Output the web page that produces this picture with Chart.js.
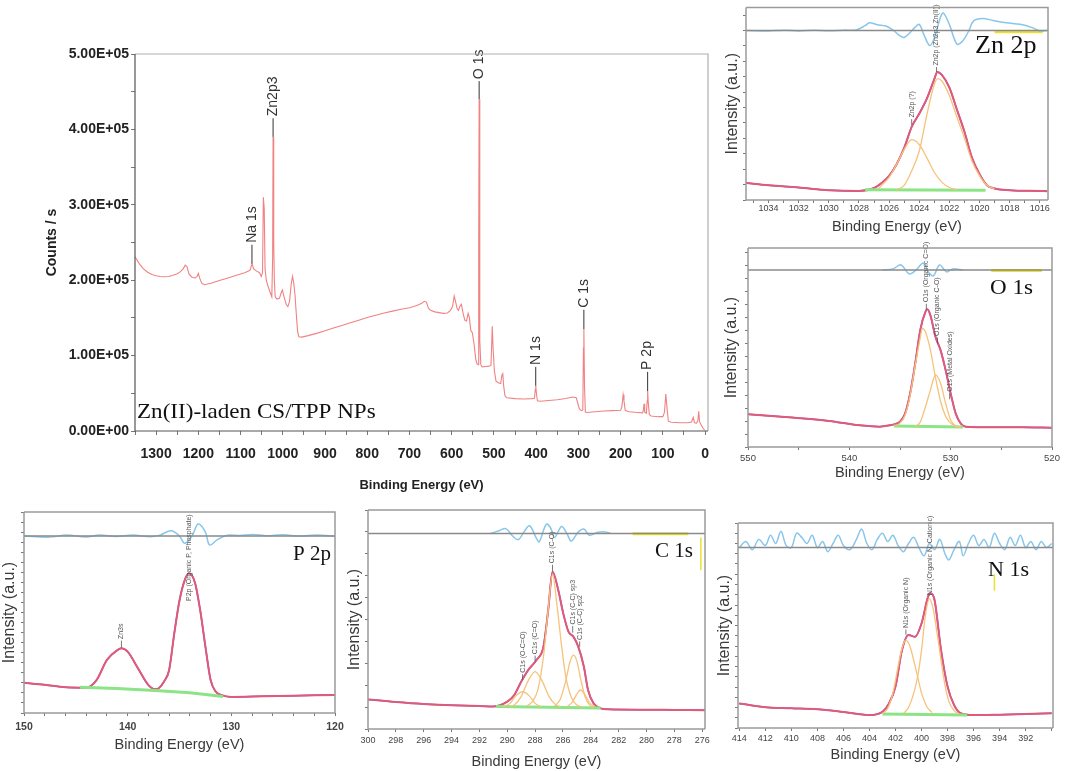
<!DOCTYPE html>
<html>
<head>
<meta charset="utf-8">
<script src="https://cdn.jsdelivr.net/npm/chart.js@4.4.1/dist/chart.umd.min.js"></script>
<style>
  body { margin: 0; background: #fff; width: 1065px; height: 771px; position: relative; overflow: hidden; }
  canvas { position: absolute; }
</style>
</head>
<body>
<canvas id="survey" width="720" height="500" style="left:0;top:0"></canvas>
<canvas id="zn" width="345" height="240" style="left:720px;top:0"></canvas>
<canvas id="o" width="345" height="250" style="left:720px;top:240px"></canvas>
<canvas id="p" width="350" height="271" style="left:0;top:500px"></canvas>
<canvas id="c" width="380" height="271" style="left:340px;top:500px"></canvas>
<canvas id="n" width="365" height="271" style="left:700px;top:500px"></canvas>
<script>
// ---- survey spectrum ----
const surveyEnergy = [1350,1340,1330,1320,1310,1300,1290,1280,1270,1260,1250,1243,1236,1231,1227,1222,1215,1208,1203,1200,1197,1192,1185,1170,1150,1130,1110,1090,1080,1077,1073,1069,1062,1055,1051,1048,1046,1044,1042,1039,1035,1030,1026,1024,1023,1022,1021,1020,1018,1014,1008,1004,1001,997,992,988,984,980,977,974,971,968,965,962,955,940,920,900,880,860,840,820,800,780,760,740,720,700,690,680,672,665,660,655,650,640,630,620,610,603,598,594,591,587,584,580,577,573,569,565,561,558,555,551,547,543,540,537,536,535,534,533,531,528,520,512,507,505,504,502,499,495,490,484,481,479,477,474,470,450,430,410,404,402,401,399,397,390,370,350,330,314,305,298,293,289.5,288,287,285.5,283.5,280,260,240,220,200,197,194,192,189,180,160,148,146,144.5,143,139,137,136,134.5,132,128,122,110,100,96,93,90,87,80,60,40,32,28,25,20,17,15,13,5,1];
const surveyCounts = [231000,222000,215000,210500,207500,206000,205000,204500,205000,206500,208500,211000,215000,220000,218000,208000,204000,203000,205000,209000,203000,196000,194000,196000,199500,203000,206500,210000,212500,214000,222000,215000,212000,210000,205000,210000,310000,295000,215000,200000,192000,184000,178000,230000,390000,330000,250000,200000,178000,175000,176000,183000,187000,178000,168000,165000,172000,195000,205000,196000,180000,155000,132000,125000,124500,126500,129500,133000,136500,140000,143500,147000,150500,153500,156500,159000,161500,163500,165000,167000,169000,172000,171000,163000,160000,158000,157000,156000,156500,160000,165000,179000,172000,162000,160000,166000,168000,156000,147000,146000,156000,150000,134000,130000,115000,95000,89000,88000,250000,440000,300000,120000,88000,85000,85500,86000,87000,120000,139000,110000,80000,66000,64000,63000,74000,76000,60000,47000,44000,43000,42500,43000,43500,55000,60000,48000,40000,39500,40500,41500,43000,45000,44000,30000,27000,28000,110000,135000,60000,25000,24500,25500,26500,27000,27500,32000,48000,40000,27000,25500,24500,24000,28000,36000,25000,23500,40000,53000,38000,22000,20000,19500,19000,19000,25000,49000,30000,13000,11500,11000,11000,12000,18000,11000,10500,14000,26000,12000,4000,1000];
const surveyPeaks = ['Na 1s', 'Zn2p3', 'O 1s', 'N 1s', 'C 1s', 'P 2p'];
const surveyPeakAt = [1073, 1023, 535, 401, 287, 136];
const surveyPeakFrom = [222000, 390000, 440000, 60000, 135000, 53000];
const surveyPeakTo = [247000, 414800, 464000, 85000, 160800, 78400];

// ---- Zn 2p ----
const znEnergy = [1035.5,1034,1032,1030,1028,1027,1026.5,1026,1025.5,1025,1024.5,1024,1023.5,1023,1022.8,1022.5,1022,1021.5,1021,1020.5,1020,1019.5,1019,1018,1016,1015.5];
const znEnvelope = [8.8,7.6,6.5,5.1,4.7,6.2,8.8,12.5,18.6,27,38,44.8,52.5,62.7,66.5,65,58.4,47,35.5,22,13.5,7.6,6,5.1,4.7,4.6];
const znPk1Energy = [1025.5,1025,1024.5,1024,1023.5,1023,1022.75,1022.5,1022,1021.5,1021,1020.5,1020,1019.5,1019];
const znPk1 = [5.4,7.6,15.2,25.3,44,60,63,61.8,54.3,43.1,32.2,20.3,12.7,7.6,5.9];
const znPk2Energy = [1026.7,1026.5,1026,1025.5,1025,1024.5,1024,1023.5,1023,1022.5,1022,1021.5];
const znPk2 = [5.9,7.6,11.8,18.6,26.2,31.3,28.8,22,14.4,9.3,6.5,5.4];
const znBgEnergy = [1027.6, 1019.6];
const znBg = [5.3, 5.0];
const znResEnergy = [1035.5,1034,1033,1032,1031,1030,1029,1028.2,1027.6,1027.3,1026.8,1026.2,1025.7,1025.3,1025,1024.6,1024.3,1024,1023.7,1023.3,1023,1022.6,1022.4,1022,1021.5,1021.1,1020.7,1020.4,1019.8,1019.1,1018.2,1017.3,1016.5,1016,1015.5];
const znRes = [88,87.7,88.2,87.8,88.1,87.9,88.2,88.3,90.5,92,91,90.3,88,85.3,84.4,87,89.5,91.2,86,80.2,84,94.6,97.1,91.2,81,82.7,88,92.9,94.2,93.2,92,91.2,89.5,87.8,88];
const znZero = 88;
const znPeaks = ['Zn2p (?)', 'Zn2p (Zn2p3 Zn(II))'];
const znPeakAt = [1024.5, 1022.85];
const znPeakFrom = [39, 66.5];
const znPeakTo = [42, 69];

// ---- O 1s ----
const oEnergy = [550,546,542,539,537,536,535.5,535,534.5,534,533.5,533,532.5,532.3,532,531.5,531,530.5,530,529.5,529,528.5,526,523,520];
const oEnvelope = [16.4,14.9,13.1,10.9,10.2,10.9,11.5,12.7,16.8,26.9,41.9,58.8,67.8,69.2,66.2,55.4,48.7,38.7,26.9,16.8,11.8,10.2,9.9,9.9,9.7];
const oPk1Energy = [535.5,535,534.5,534,533.5,533,532.8,532.5,532,531.5,531,530.5,530,529.5,529];
const oPk1 = [10.5,12,16,26,41,55,59.6,58,48.7,35,23,15.5,12,10.5,10];
const oPk2Energy = [533.5,533,532.5,532,531.5,531,530.5,530,529.5,529];
const oPk2 = [10.3,12.5,20,28.6,36.2,32,22,13.6,10.6,10];
const oBgEnergy = [535.6, 528.8];
const oBg = [10.6, 10.0];
const oResEnergy = [536.7,535.7,534.9,534.1,533.4,532.7,532.2,531.7,531.1,530.4,529.8,528.8];
const oRes = [89,89.5,91.5,87,89,92.5,88,86,91.5,88,89.5,89];
const oZero = 89;
const oPeaks = ['O1s (Organic C=O)', 'O1s (Organic C-O)', 'O1s (Metal Oxides)'];
const oPeakAt = [532.4, 531.3, 530.1];
const oPeakFrom = [69, 52, 24];
const oPeakTo = [72, 55, 27];

// ---- P 2p ----
const pEnergy = [150,148,146,144,143,142,141,140.6,140,139,138,137.3,137,136.5,136,135.5,135,134.5,134.1,133.5,133,132.5,132,131.5,131,130,127,124,120];
const pEnvelope = [15,14,12.8,12.6,16.4,26.4,31.3,32.2,30.5,22.2,13.9,11.8,12.3,15.6,21.4,39.7,56,66,69.5,64.7,51,33,16.4,10.6,9,8,8.3,8.6,9];
const pBgEnergy = [144.6,141,137,134,130.8];
const pBg = [12.8,12.2,11.1,10.1,8.2];
const pResEnergy = [150,147.5,145.9,144,142.7,141.1,139.5,137.8,136.9,135.8,135,134.5,133.8,133.2,132.5,132.1,131.4,130.4,129.2,127.9,126.6,125,123.4,121.8,120];
const pRes = [88,87.5,88.5,87.6,88.6,87.8,88.5,87.7,88.5,90.7,88,84.4,88,94,90,83.6,86,88.5,88.3,88.8,88.2,88.7,88,88.5,88];
const pZero = 88;
const pPeaks = ['Zn3s', 'P2p (Organic P, Phosphate)'];
const pPeakAt = [140.6, 134.1];
const pPeakFrom = [32.5, 55];
const pPeakTo = [36, 55];

// ---- C 1s ----
const cEnergy = [300,298,296,294,292,291,290,289.5,289,288.5,287.9,287.4,287.06,286.75,286.34,285.98,285.6,285.25,284.9,284.5,284.2,283.8,283.3,282.8,280,278,275.8];
const cEnvelope = [13.5,12.3,11.4,10.9,10.5,10.3,12.5,15.5,21.6,26.9,31.5,37.6,54.3,71.8,63.5,52.8,44.4,42.2,37.6,28.5,17.8,11.7,9.4,9,8.8,8.7,8.6];
const cPk1Energy = [290.3,289.8,289.4,288.9,288.4,288,287.6];
const cPk1 = [10.2,11.7,15,17,15,11.7,10.2];
const cPk2Energy = [289.8,289.5,289,288.5,288,287.5,287,286.5,286.2];
const cPk2 = [10.2,11,14.8,22,26.2,22,14.8,11,10.2];
const cPk3Energy = [288.6,288.2,287.8,287.4,287.1,286.75,286.4,286.1,285.8,285.4,285,284.6];
const cPk3 = [10.5,12.5,18,33,52,70.5,55,38,24,14.5,11,10];
const cPk4Energy = [286.6,286.2,285.8,285.5,285.25,285,284.7,284.4,284.1,283.8];
const cPk4 = [10.5,13.5,22,30.5,33.7,31,22,14.5,11,10];
const cPk5Energy = [285.7,285.3,285,284.75,284.4,284.1,283.7];
const cPk5 = [10.2,12.5,16,17.8,15.5,12,10.2];
const cBgEnergy = [290.8, 283.3];
const cBg = [10.3, 9.6];
const cResEnergy = [291.2,290.6,290.1,289.6,289.2,288.8,288.4,287.9,287.7,287.2,286.9,286.6,286.1,285.7,285.4,284.9,284.5,284.1,283.5,283,282.6];
const cRes = [89.3,90.5,91.5,88,86.5,90,92.8,87,85.5,93.5,92,87.5,92.5,89,85.8,90,91.3,88.5,89.8,90,89.3];
const cZero = 89.3;
const cPeaks = ['C1s (O-C=O)', 'C1s (C=O)', 'C1s (C-O)', 'C1s (C-C) sp3', 'C1s (C-C) sp2'];
const cPeakAt = [288.9, 288.0, 286.75, 285.3, 284.8];
const cPeakFrom = [22.5, 31, 72, 44, 37.6];
const cPeakTo = [25, 33.5, 75, 47, 40];

// ---- N 1s ----
const nEnergy = [414,413,412,410,408,406,404,403,402.5,402,401.5,401,400.5,400,399.5,399.3,399,398.5,398,397.5,397,396,394,392,390];
const nEnvelope = [12,11,10.1,9.6,9.1,7.8,6.3,7.9,12,20.2,38,45.4,44.5,51,64,65.7,62.4,38,20.2,11.2,7.2,6.3,6.5,6.8,7.2];
const nPk1Energy = [403,402.6,402.2,401.8,401.5,401.2,400.9,400.6,400.3,400,399.6,399.2];
const nPk1 = [7,9.5,17,30,39,42.9,40,33,25,17,10.5,7.5];
const nPk2Energy = [401.4,401,400.6,400.3,400,399.7,399.4,399.1,398.8,398.5,398.2,397.9,397.5,397.1];
const nPk2 = [7,10,17,25,38,55,63,58,46,33,21,13,8.5,6.8];
const nBgEnergy = [403, 396.5];
const nBg = [6.8, 6.3];
const nResEnergy = [414,413.5,413,412.5,412,411.6,411.2,410.8,410.4,410,409.6,409.2,408.8,408.4,408,407.6,407.2,406.8,406.4,406,405.5,405,404.6,404.2,403.8,403.4,403,402.6,402.2,401.8,401.4,401,400.6,400.2,399.8,399.4,399,398.6,398.2,397.9,397.5,397.1,396.8,396.4,396,395.6,395.2,394.8,394.4,394,393.6,393.2,392.8,392.4,392,391.6,391.2,390.8,390.4,390];
const nRes = [88,91,87,92,89,94,90,96,89,88,95,93,90,94,88,91,86,90,94,89,87,92,97,90,87,92,95,91,94,89,86,90,93,88,84,90,87,92,85,82,87,91,84,90,94,89,92,88,95,90,87,93,89,94,88,91,87,91,88,90];
const nZero = 88;
const nPeaks = ['N1s (Organic N)', 'N1s (Organic N, Cationic)'];
const nPeakAt = [401.2, 399.35];
const nPeakFrom = [45.5, 64];
const nPeakTo = [48, 64];

// ---- colours ----
const RAW = '#e05a7a';
const FIT = '#5a45c4';
const COMP = '#f6c27c';
const BG = '#8ce486';
const RES = '#88c6ea';
const ZERO = '#8a8a8a';
const YEL = '#eee032';

function pts(es, vs) {
  return es.map((e, i) => ({ x: e, y: vs[i] }));
}

function curve(es, vs, color, width, extra) {
  return Object.assign({
    data: pts(es, vs),
    borderColor: color,
    borderWidth: width,
    pointRadius: 0,
    fill: false,
    cubicInterpolationMode: 'monotone',
  }, extra || {});
}

function straight(es, vs, color, width) {
  return curve(es, vs, color, width, { cubicInterpolationMode: 'default', tension: 0 });
}

function labels(names, at, from, to) {
  return names.map((t, i) => ({ text: t, at: at[i], from: from[i], to: to[i] }));
}

// frame around the plot area
const boxPlugin = {
  id: 'box',
  afterDraw(chart, args, o) {
    const { ctx, chartArea: a } = chart;
    ctx.save();
    ctx.lineWidth = o.width;
    ctx.strokeStyle = o.color;
    ctx.beginPath();
    ctx.moveTo(a.left, a.top); ctx.lineTo(a.right, a.top); ctx.lineTo(a.right, a.bottom);
    ctx.stroke();
    ctx.strokeStyle = o.axisColor || o.color;
    ctx.beginPath();
    ctx.moveTo(a.left, a.top); ctx.lineTo(a.left, a.bottom); ctx.lineTo(a.right, a.bottom);
    ctx.stroke();
    ctx.restore();
  }
};

// rotated peak labels with leader lines
const peakPlugin = {
  id: 'peaks',
  afterDatasetsDraw(chart, args, o) {
    const { ctx, scales: { x, y } } = chart;
    (o.items || []).forEach(it => {
      const px = x.getPixelForValue(it.at);
      const y0 = y.getPixelForValue(it.from);
      const y1 = y.getPixelForValue(it.to);
      ctx.save();
      ctx.strokeStyle = o.color;
      ctx.fillStyle = o.color;
      ctx.lineWidth = o.lineWidth;
      if (y1 !== y0) { ctx.beginPath(); ctx.moveTo(px, y0); ctx.lineTo(px, y1); ctx.stroke(); }
      ctx.translate(px, y1 - o.gap);
      ctx.rotate(-Math.PI / 2);
      ctx.font = o.font;
      ctx.textAlign = 'left';
      ctx.textBaseline = 'middle';
      ctx.fillText(it.text, 0, 0);
      ctx.restore();
    });
  }
};

// serif panel captions
const notePlugin = {
  id: 'notes',
  afterDraw(chart, args, o) {
    const { ctx } = chart;
    (o.items || []).forEach(it => {
      ctx.save();
      ctx.font = it.font;
      ctx.fillStyle = '#111';
      ctx.textBaseline = 'alphabetic';
      ctx.translate(it.x, it.y);
      ctx.scale(it.sx || 1, 1);
      ctx.fillText(it.text, 0, 0);
      ctx.restore();
    });
  }
};

function sci(v) {
  if (v === 0) return '0.00E+00';
  const e = Math.floor(Math.log10(v));
  return (v / Math.pow(10, e)).toFixed(2) + 'E+' + String(e).padStart(2, '0');
}

Chart.defaults.font.family = 'Arial, "Liberation Sans", sans-serif';
Chart.defaults.color = '#444';

function makePanel(id, p) {
  return new Chart(document.getElementById(id), {
    type: 'line',
    data: { datasets: p.datasets },
    options: {
      responsive: false,
      animation: false,
      layout: { padding: p.pad },
      plugins: {
        legend: { display: false },
        tooltip: { enabled: false },
        box: p.box,
        peaks: p.peaks,
        notes: { items: p.notes },
      },
      scales: {
        x: {
          type: 'linear',
          reverse: true,
          min: p.xMin, max: p.xMax,
          afterFit: s => { s.height = p.xHeight; },
          border: { display: false },
          grid: { drawOnChartArea: false, drawTicks: true, tickLength: p.xTick, color: '#777' },
          ticks: {
            stepSize: p.xStep,
            includeBounds: false,
            autoSkip: false,
            maxRotation: 0,
            padding: p.xPad,
            font: p.tickFont,
            color: p.tickColor,
            callback: p.xLabel,
          },
          title: { display: true, text: 'Binding Energy (eV)', font: p.titleFont, color: p.titleColor, padding: { top: 0, bottom: p.xTitlePad } },
        },
        y: {
          type: 'linear',
          min: p.yMin, max: p.yMax,
          afterFit: s => { s.width = p.yWidth; },
          border: { display: false },
          grid: { drawOnChartArea: false, drawTicks: true, tickLength: p.yTick, color: '#777' },
          ticks: {
            stepSize: p.yStep,
            includeBounds: false,
            autoSkip: false,
            padding: 2,
            font: p.tickFont,
            color: p.tickColor,
            callback: p.yLabel,
          },
          title: { display: true, text: p.yTitle, font: p.yTitleFont || p.titleFont, color: p.titleColor, padding: { top: p.yTitlePad, bottom: 0 } },
        },
      },
    },
    plugins: [boxPlugin, peakPlugin, notePlugin],
  });
}

const smallPeaks = items => ({ items, color: '#555', lineWidth: 0.8, font: '7px Arial', gap: 1.5 });
const smallBox = { color: '#9a9a9a', width: 1.5 };
const none = () => '';
const every = n => v => (Math.abs(Math.round(v) - v) < 1e-6 && Math.round(v) % n === 0 ? String(Math.round(v)) : '');

// survey
makePanel('survey', {
  pad: { left: 40, right: 9, top: 54, bottom: 3 },
  xMin: -7, xMax: 1350, xStep: 50, xHeight: 66, xTick: 4, xPad: 11,
  xLabel: every(100),
  yMin: 0, yMax: 500000, yStep: 50000, yWidth: 95, yTick: 4,
  yLabel: v => (v % 100000 === 0 ? sci(v) : ''),
  tickFont: { size: 14, weight: 'bold' }, tickColor: '#222',
  titleFont: { size: 13, weight: 'bold' }, yTitleFont: { size: 14, weight: 'bold' }, titleColor: '#222',
  xTitlePad: 4, yTitlePad: 4, yTitle: 'Counts / s',
  box: { color: '#b0b0b0', axisColor: '#555', width: 1.2 },
  peaks: { items: labels(surveyPeaks, surveyPeakAt, surveyPeakFrom, surveyPeakTo), color: '#333', lineWidth: 1, font: '14px Arial', gap: 2 },
  notes: [{ text: 'Zn(II)-laden CS/TPP NPs', x: 137, y: 418, font: '21px "Liberation Serif", "Times New Roman", serif', sx: 1.1 }],
  datasets: [straight(surveyEnergy, surveyCounts, '#f08282', 1.1)],
});

function fitSets(zero, xMin, xMax, resE, res, comps, bgE, bg, envE, env, extra) {
  return [
    straight([xMax, xMin], [zero, zero], ZERO, 1.5),
    curve(resE, res, RES, 1.5, { cubicInterpolationMode: 'default', tension: 0.35 }),
    ...comps.map(c => curve(c[0], c[1], COMP, 1.3)),
    straight(bgE, bg, BG, 3),
    curve(envE, env, RAW, 2.0),
    curve(envE, env, FIT, 1.5),
    ...(extra || []),
  ];
}

const smallCommon = {
  tickColor: '#444',
  titleColor: '#3a3a3a',
  titleFont: { size: 14.5 },
  yTitleFont: { size: 16 },
  yTitle: 'Intensity (a.u.)',
  yMin: 0, yMax: 100, yLabel: none, yTick: 3, xTick: 3,
  box: smallBox,
};

// Zn 2p
makePanel('zn', Object.assign({}, smallCommon, {
  pad: { left: 0, right: 17, top: 3, bottom: 0 },
  xMin: 1015.45, xMax: 1035.5, xStep: 1, xHeight: 40, xPad: 0, xLabel: every(2),
  yStep: 8, yWidth: 26, xTitlePad: 4, yTitlePad: 3.4,
  tickFont: { size: 9 },
  peaks: smallPeaks(labels(znPeaks, znPeakAt, znPeakFrom, znPeakTo)),
  notes: [{ text: 'Zn 2p', x: 255, y: 53, font: '26px "Liberation Serif", serif' }],
  datasets: fitSets(znZero, 1015.45, 1035.5, znResEnergy, znRes,
    [[znPk1Energy, znPk1], [znPk2Energy, znPk2]], znBgEnergy, znBg, znEnergy, znEnvelope,
    [straight([1019, 1015.8], [87.4, 87.4], YEL, 3)]),
}));

// O 1s
makePanel('o', Object.assign({}, smallCommon, {
  pad: { left: 0, right: 13, top: 8, bottom: 4 },
  xMin: 520, xMax: 550, xStep: 5, xHeight: 39, xPad: 3, xLabel: every(10),
  yStep: 6.5, yWidth: 28, xTitlePad: 4.3, yTitlePad: 2.1,
  tickFont: { size: 9.5 },
  peaks: smallPeaks(labels(oPeaks, oPeakAt, oPeakFrom, oPeakTo)),
  notes: [{ text: 'O 1s', x: 270, y: 54, font: '21px "Liberation Serif", serif', sx: 1.1 }],
  datasets: fitSets(oZero, 520, 550, oResEnergy, oRes,
    [[oPk1Energy, oPk1], [oPk2Energy, oPk2]], oBgEnergy, oBg, oEnergy, oEnvelope,
    [straight([526, 521], [88.7, 88.7], YEL, 3)]),
}));

// P 2p
makePanel('p', Object.assign({}, smallCommon, {
  pad: { left: 0, right: 15, top: 12, bottom: 13 },
  xMin: 120, xMax: 150, xStep: 2, xHeight: 45, xPad: 5, xLabel: every(10),
  yStep: 5, yWidth: 24, xTitlePad: 4.3, yTitlePad: 0,
  tickFont: { size: 10.5, weight: 'bold' },
  peaks: smallPeaks(labels(pPeaks, pPeakAt, pPeakFrom, pPeakTo)),
  notes: [{ text: 'P 2p', x: 293, y: 60, font: '21px "Liberation Serif", serif' }],
  datasets: fitSets(pZero, 120, 150, pResEnergy, pRes,
    [], pBgEnergy, pBg, pEnergy, pEnvelope),
}));

// C 1s
makePanel('c', Object.assign({}, smallCommon, {
  pad: { left: 0, right: 15, top: 10, bottom: 0 },
  xMin: 275.8, xMax: 300, xStep: 2, xHeight: 42, xPad: 3.5, xLabel: every(2),
  yStep: 10, yWidth: 28, xTitlePad: 0.3, yTitlePad: 5.4,
  tickFont: { size: 9 },
  peaks: smallPeaks(labels(cPeaks, cPeakAt, cPeakFrom, cPeakTo)),
  notes: [{ text: 'C 1s', x: 315, y: 57, font: '21px "Liberation Serif", serif' }],
  datasets: fitSets(cZero, 275.8, 300, cResEnergy, cRes,
    [[cPk1Energy, cPk1], [cPk2Energy, cPk2], [cPk3Energy, cPk3], [cPk4Energy, cPk4], [cPk5Energy, cPk5]],
    cBgEnergy, cBg, cEnergy, cEnvelope,
    [straight([281, 277], [89.1, 89.1], YEL, 3), straight([276.1, 276.1], [87.5, 72.5], YEL, 1.5)]),
}));

// N 1s
makePanel('n', Object.assign({}, smallCommon, {
  pad: { left: 12, right: 12, top: 23, bottom: 3 },
  xMin: 389.9, xMax: 414.1, xStep: 2, xHeight: 40, xPad: 2.5,
  xLabel: v => (v > 391 && v % 2 === 0 ? String(v) : ''),
  yStep: 5, yWidth: 26, xTitlePad: 4.3, yTitlePad: 3.4,
  tickFont: { size: 9 },
  peaks: smallPeaks(labels(nPeaks, nPeakAt, nPeakFrom, nPeakTo)),
  notes: [{ text: 'N 1s', x: 288, y: 76, font: '21px "Liberation Serif", serif', sx: 1.05 }],
  datasets: fitSets(nZero, 389.9, 414.1, nResEnergy, nRes,
    [[nPk1Energy, nPk1], [nPk2Energy, nPk2]], nBgEnergy, nBg, nEnergy, nEnvelope,
    [straight([394.4, 394.4], [75, 67], YEL, 1.5)]),
}));
</script>
</body>
</html>
